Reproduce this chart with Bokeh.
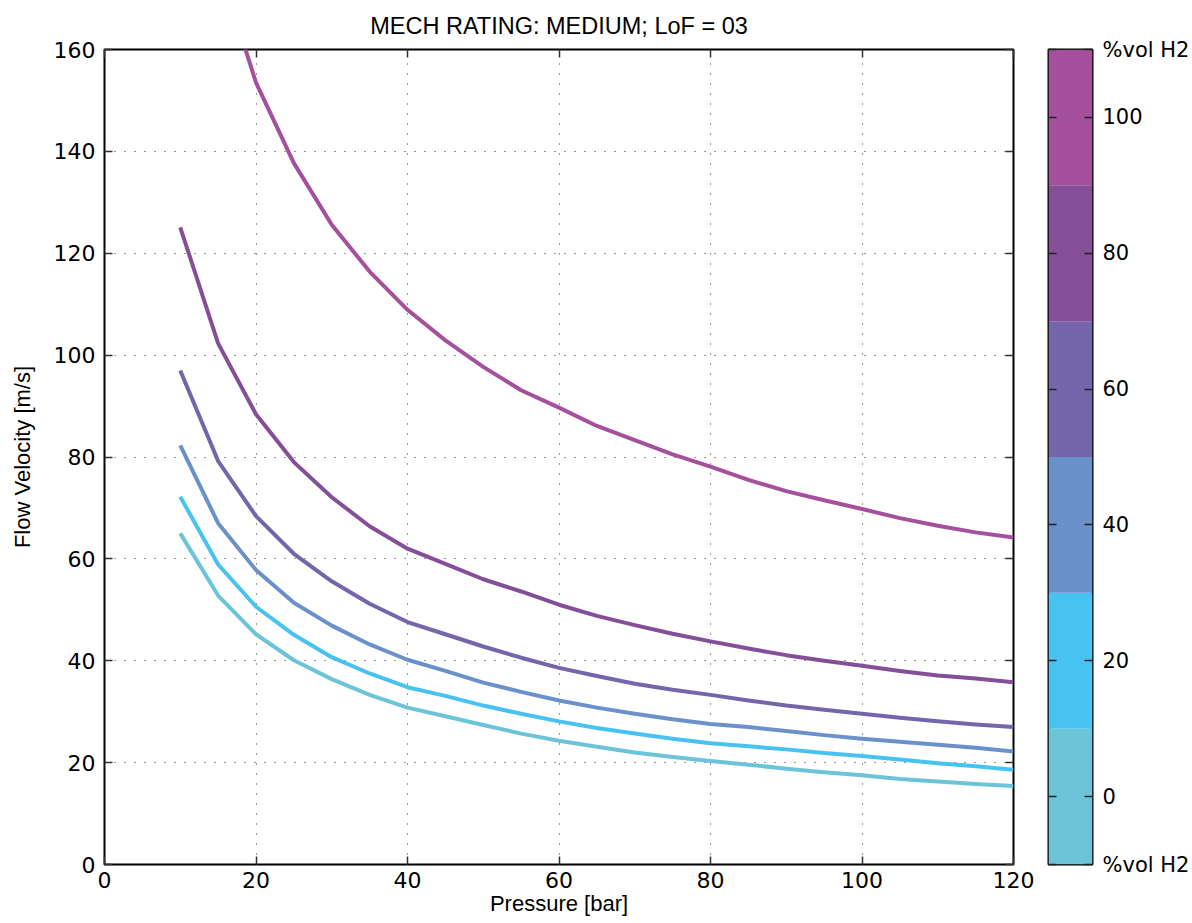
from bokeh.plotting import figure
from bokeh.layouts import row
from bokeh.models import LinearAxis, FixedTicker, Range1d
from bokeh.embed import file_html
from bokeh.resources import INLINE

# ---- data ----
pressure = [10, 15, 20, 25, 30, 35, 40, 45, 50, 55, 60, 65, 70, 75, 80, 85, 90, 95, 100, 105, 110, 115, 120]
v_h2_0 = [65.0, 52.8, 45.2, 40.1, 36.4, 33.3, 30.8, 29.1, 27.4, 25.7, 24.3, 23.1, 22.0, 21.1, 20.3, 19.6, 18.8, 18.1, 17.5, 16.8, 16.3, 15.8, 15.4]
v_h2_20 = [72.2, 58.9, 50.6, 45.1, 40.7, 37.5, 34.8, 33.1, 31.2, 29.6, 28.1, 26.8, 25.7, 24.7, 23.8, 23.2, 22.6, 21.9, 21.3, 20.6, 19.9, 19.3, 18.6]
v_h2_40 = [82.3, 67.0, 57.8, 51.4, 46.9, 43.2, 40.2, 38.0, 35.7, 33.9, 32.2, 30.8, 29.6, 28.5, 27.6, 27.0, 26.2, 25.4, 24.7, 24.1, 23.5, 22.9, 22.2]
v_h2_60 = [97.0, 79.2, 68.4, 61.0, 55.6, 51.2, 47.6, 45.2, 42.8, 40.6, 38.6, 37.0, 35.5, 34.3, 33.3, 32.2, 31.2, 30.4, 29.6, 28.8, 28.1, 27.5, 27.0]
v_h2_80 = [125.1, 102.3, 88.4, 79.0, 72.1, 66.4, 62.0, 59.0, 56.0, 53.6, 51.0, 48.8, 47.0, 45.3, 43.8, 42.4, 41.1, 40.0, 39.0, 38.0, 37.1, 36.5, 35.8]
v_h2_100 = [216.0, 177.0, 153.5, 137.7, 125.6, 116.4, 108.9, 102.9, 97.7, 93.1, 89.7, 86.1, 83.3, 80.5, 78.1, 75.5, 73.3, 71.5, 69.8, 68.0, 66.5, 65.2, 64.2]

h2_levels = [0, 20, 40, 60, 80, 100]
h2_colors = ["#6CC4D8", "#48C2F0", "#6A91CA", "#7565AB", "#844F98", "#A5509C"]
x_ticks = [0, 20, 40, 60, 80, 100, 120]
y_ticks = [0, 20, 40, 60, 80, 100, 120, 140, 160]
cbar_ticks = [-10, 0, 20, 40, 60, 80, 100, 110]
cbar_label = "%vol H2"

title_text = "MECH RATING: MEDIUM; LoF = 03"
x_label = "Pressure [bar]"
y_label = "Flow Velocity [m/s]"

TICK_FONT = "DejaVu Sans"
LABEL_FONT = "Liberation Sans"

# ---- main plot ----
p = figure(width=1040, height=923, x_range=Range1d(0, 120), y_range=Range1d(0, 160),
           output_backend="svg", toolbar_location=None,
           min_border_left=104, min_border_right=27, min_border_top=49, min_border_bottom=59)

p.title.text = title_text
p.title.align = "center"
p.title.vertical_align = "top"
p.title.text_font = LABEL_FONT
p.title.text_font_size = "23.5px"
p.title.text_font_style = "normal"
p.title.text_color = "black"
p.title.standoff = 18

series = [v_h2_0, v_h2_20, v_h2_40, v_h2_60, v_h2_80, v_h2_100]
for vals, col in zip(series, h2_colors):
    p.line(pressure, vals, line_width=4, line_color=col, line_join="round")

p.add_layout(LinearAxis(), "above")
p.add_layout(LinearAxis(), "right")

for ax in p.xaxis:
    ax.ticker = FixedTicker(ticks=x_ticks)
for ax in p.yaxis:
    ax.ticker = FixedTicker(ticks=y_ticks)

for ax in p.axis:
    ax.axis_line_color = None
    ax.major_tick_in = 8
    ax.major_tick_out = 0
    ax.major_tick_line_color = "#333333"
    ax.major_tick_line_width = 1.5
    ax.minor_tick_line_color = None
    ax.major_label_text_font = TICK_FONT
    ax.major_label_text_font_size = "22px"
    ax.major_label_text_color = "black"

p.above[0].major_label_overrides = {t: "" for t in x_ticks}
p.above[0].major_label_standoff = 0
p.right[0].major_label_overrides = {t: "" for t in y_ticks}
p.right[0].major_label_standoff = 0

p.below[0].major_label_standoff = 7
p.below[0].axis_label = x_label
p.below[0].axis_label_text_font = LABEL_FONT
p.below[0].axis_label_text_font_size = "22px"
p.below[0].axis_label_text_font_style = "normal"
p.below[0].axis_label_text_color = "black"
p.below[0].axis_label_standoff = 0

p.left[0].major_label_standoff = 9
p.left[0].axis_label = y_label
p.left[0].axis_label_text_font = LABEL_FONT
p.left[0].axis_label_text_font_size = "22px"
p.left[0].axis_label_text_font_style = "normal"
p.left[0].axis_label_text_color = "black"
p.left[0].axis_label_standoff = 16

p.xgrid.ticker = FixedTicker(ticks=x_ticks)
p.ygrid.ticker = FixedTicker(ticks=y_ticks)
p.grid.grid_line_color = "#333333"
p.grid.grid_line_dash = "1 9"
p.grid.grid_line_width = 1

p.outline_line_color = "black"
p.outline_line_width = 2
p.outline_line_alpha = 1

# ---- colour bar ----
p2 = figure(width=152, height=923, x_range=Range1d(0, 1), y_range=Range1d(-10, 110),
            x_axis_location=None, y_axis_location="right",
            output_backend="svg", toolbar_location=None,
            min_border_left=8, min_border_right=100, min_border_top=49, min_border_bottom=59)
p2.grid.visible = False
p2.quad(left=0, right=1,
        bottom=[lv - 10 for lv in h2_levels], top=[lv + 10 for lv in h2_levels],
        fill_color=h2_colors, line_color=None)
p2.add_layout(LinearAxis(), "left")
for ax in p2.yaxis:
    ax.ticker = FixedTicker(ticks=cbar_ticks)
    ax.axis_line_color = None
    ax.major_tick_in = 8
    ax.major_tick_out = 0
    ax.major_tick_line_color = "#222222"
    ax.major_tick_line_width = 1.5
    ax.minor_tick_line_color = None
    ax.major_label_text_font = TICK_FONT
    ax.major_label_text_font_size = "21px"
    ax.major_label_text_color = "black"
p2.right[0].major_label_overrides = {-10: cbar_label, 110: cbar_label}
p2.right[0].major_label_standoff = 10
p2.left[0].major_label_overrides = {t: "" for t in cbar_ticks}
p2.left[0].major_label_standoff = 0
p2.outline_line_color = "black"
p2.outline_line_width = 2
p2.outline_line_alpha = 1

layout = row(p, p2)
open("out.html", "w").write(file_html(layout, INLINE))
